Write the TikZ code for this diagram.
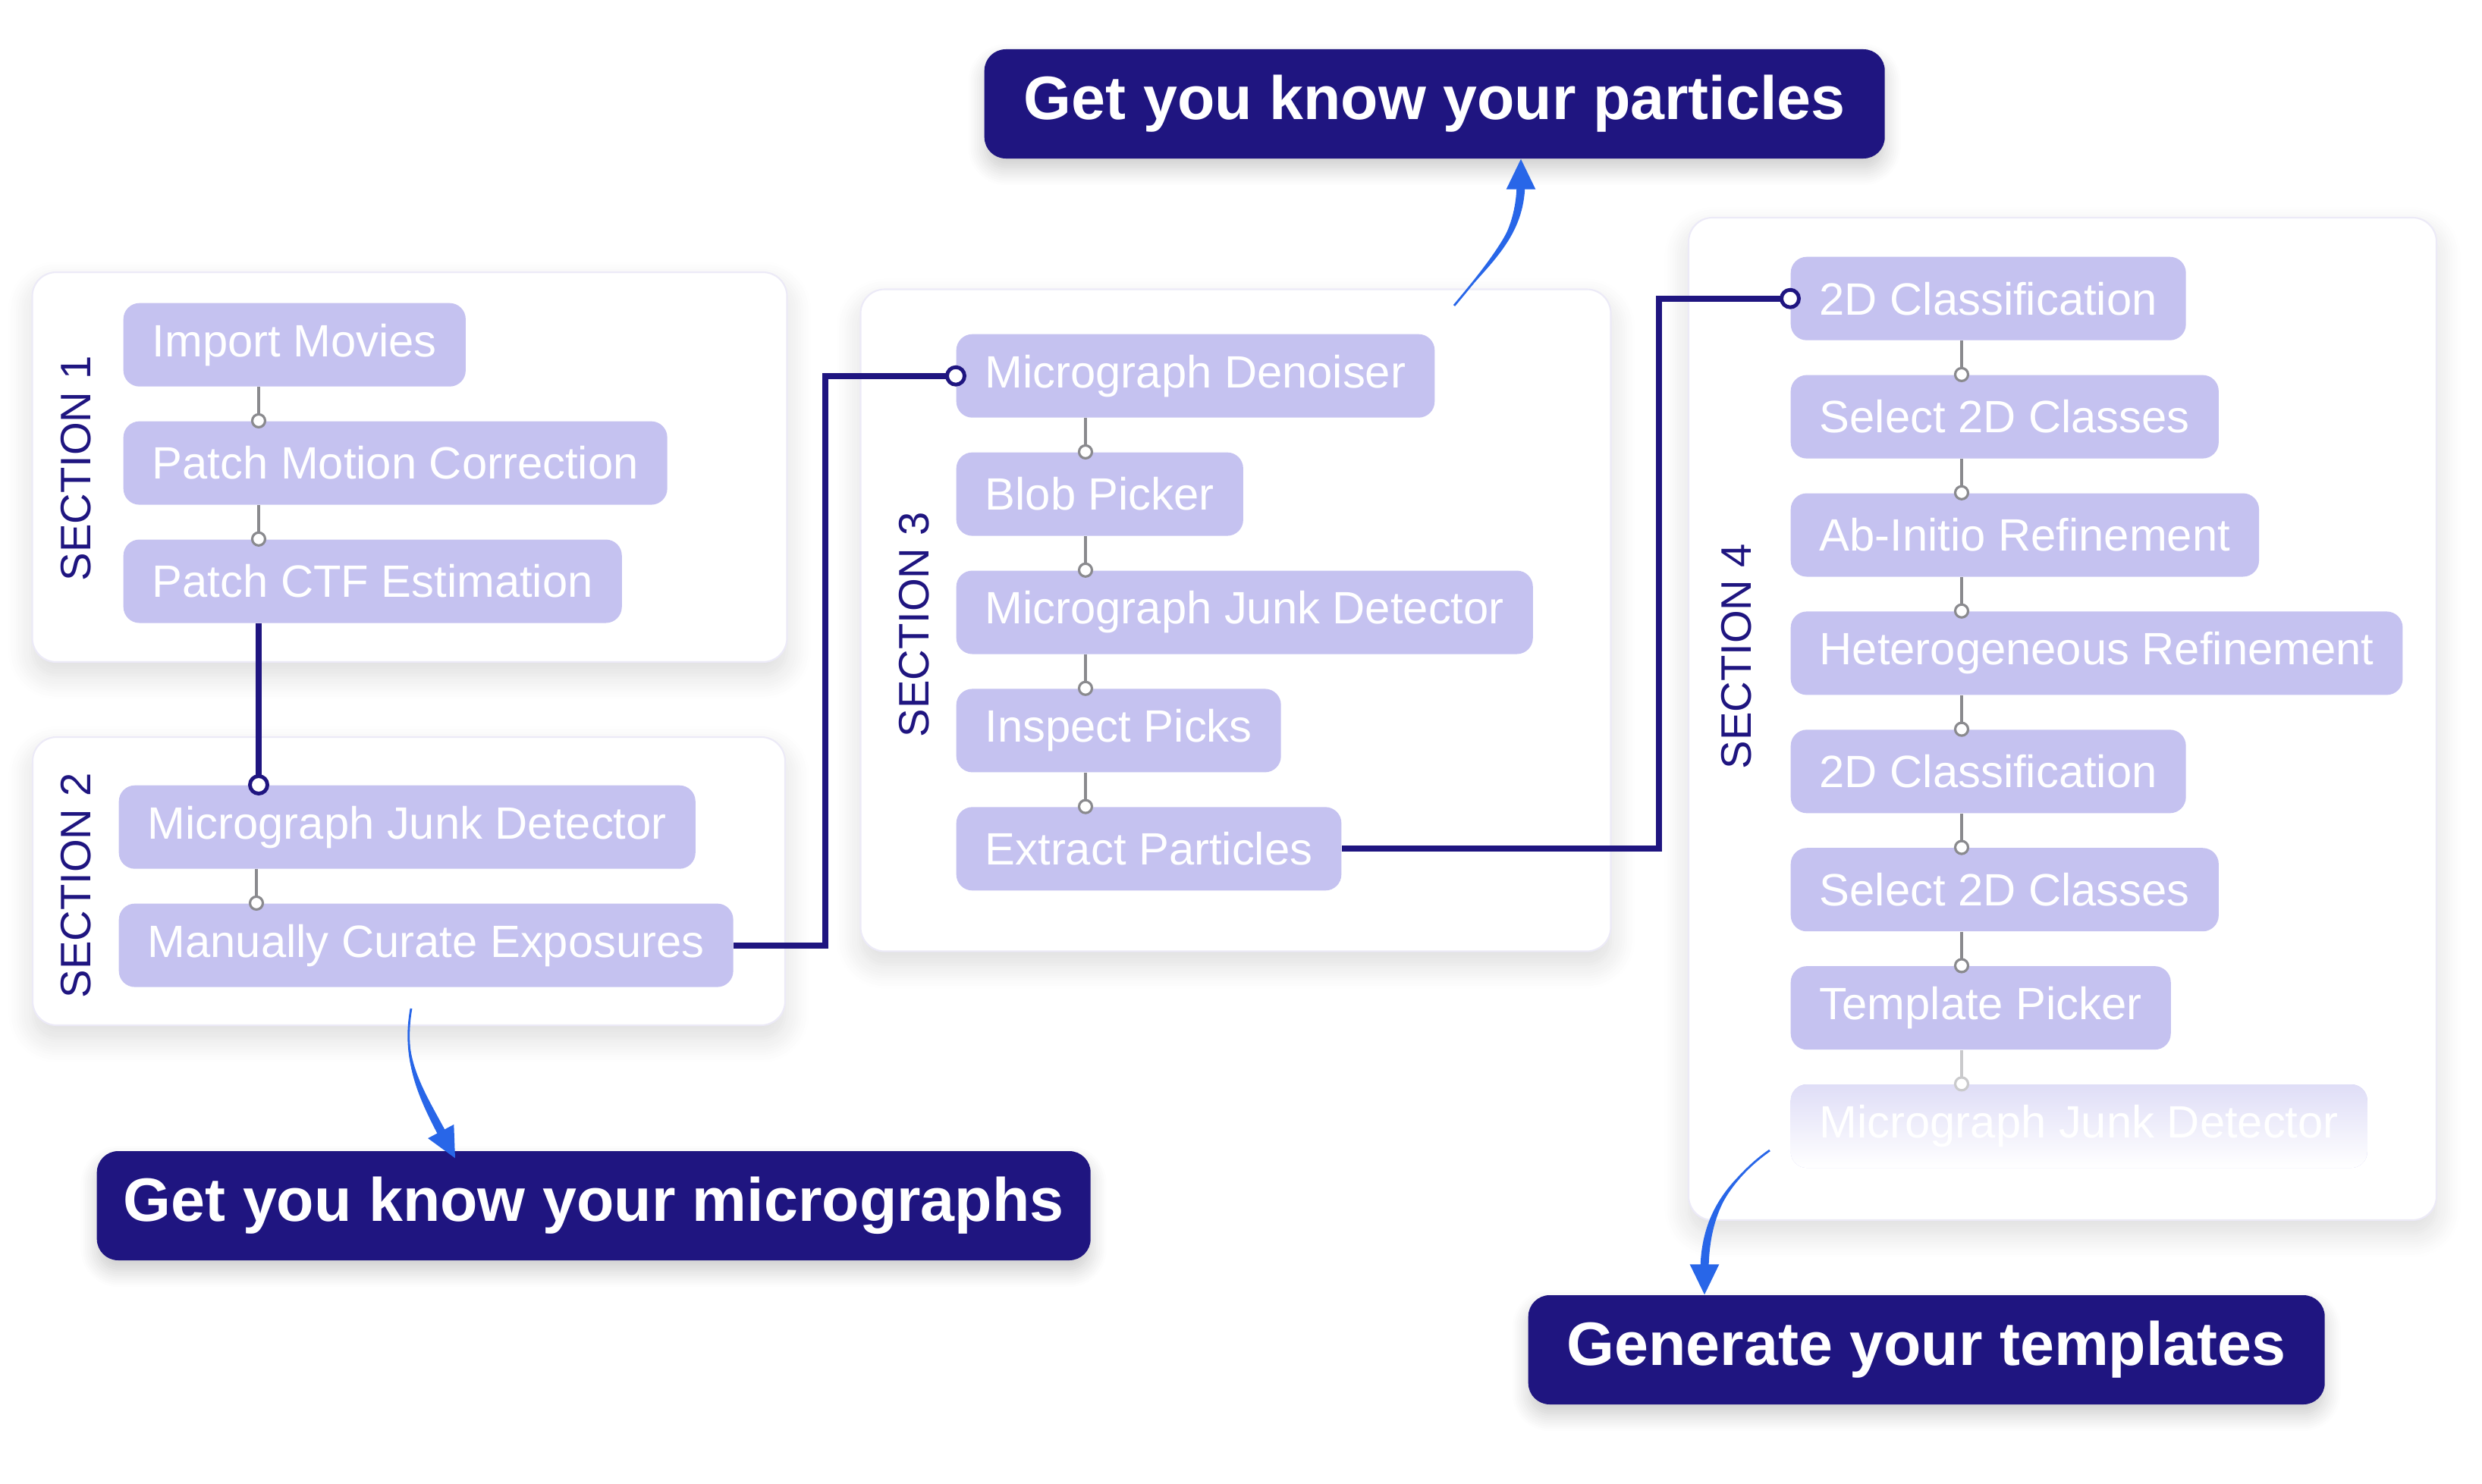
\documentclass[tikz,border=0pt]{standalone}
\usepackage{fontspec}
\setmainfont{Liberation Sans}
\usepackage{tikz}
\usetikzlibrary{arrows.meta,positioning,calc,shadows.blur}
\definecolor{Navy}{HTML}{1F1580}
\definecolor{Lilac}{HTML}{C5C2F0}
\definecolor{Wire}{HTML}{8A8A8E}
\definecolor{Edge}{HTML}{ECEAF7}
\definecolor{Blue}{HTML}{2866E8}

\begin{document}
\begin{tikzpicture}[
    panel/.style={rounded corners=9pt,fill=white,draw=Edge,line width=0.6pt,
      blur shadow={shadow xshift=0pt,shadow yshift=-5pt,shadow blur steps=10,
        shadow blur radius=9pt,shadow opacity=14}},
    job/.style={rounded corners=6pt,fill=Lilac,text=white,minimum height=1.1cm,
      inner xsep=0.38cm,anchor=north west,font=\fontsize{17pt}{20pt}\selectfont},
    under/.style={below=0.445cm of #1.south west,anchor=north west},
    sec/.style={rotate=90,text=Navy,font=\fontsize{16pt}{19pt}\selectfont},
    goal/.style={rounded corners=8pt,fill=Navy,text=white,minimum height=1.44cm,
      inner xsep=0.3cm,anchor=west,font=\fontsize{23pt}{27pt}\selectfont\bfseries,
      blur shadow={shadow xshift=0pt,shadow yshift=-4pt,shadow blur steps=8,
        shadow blur radius=6pt,shadow opacity=20}},
    wire/.style={draw=Wire,line width=0.9pt},
    flow/.style={draw=Navy,line width=2.3pt},
    knob/.style={circle,draw=Wire,fill=white,line width=0.9pt,inner sep=0pt,minimum size=0.17cm},
    bigknob/.style={circle,draw=Navy,fill=white,line width=1.4pt,inner sep=0pt,minimum size=0.23cm},
    hint/.style={draw=Blue,line width=0.8pt,-{Triangle[length=0.4cm,width=0.38cm]}}
  ]
    \useasboundingbox (0,0) rectangle (32.72,-19.57);

    % section panels
    \node[panel,minimum width=9.95cm,minimum height=5.14cm] (box1) at (5.40,-6.16) {};
    \node[panel,minimum width=9.92cm,minimum height=3.80cm] (box2) at (5.39,-11.62) {};
    \node[panel,minimum width=9.89cm,minimum height=8.73cm] (box3) at (16.29,-8.18) {};
    \node[panel,minimum width=9.86cm,minimum height=13.22cm] (box4) at (27.19,-9.48) {};

    \node[sec] (sec1) at (1.00,-6.18) {SECTION 1};
    \node[sec] (sec2) at (1.00,-11.68) {SECTION 2};
    \node[sec] (sec3) at (12.05,-8.24) {SECTION 3};
    \node[sec] (sec4) at (22.89,-8.66) {SECTION 4};

    % section 1
    \node[job] (imp) at (1.62,-3.99) {Import Movies};
    \node[job,under=imp] (pmc) {Patch Motion Correction};
    \node[job,under=pmc] (ctf) {Patch CTF Estimation};

    % section 2
    \node[job] (mjd2) at (1.56,-10.35) {Micrograph Junk Detector};
    \node[job,under=mjd2] (mce) {Manually Curate Exposures};

    % section 3
    \node[job] (den) at (12.60,-4.40) {Micrograph Denoiser};
    \node[job,under=den] (blob) {Blob Picker};
    \node[job,under=blob] (mjd3) {Micrograph Junk Detector};
    \node[job,under=mjd3] (insp) {Inspect Picks};
    \node[job,under=insp] (ext) {Extract Particles};

    % section 4
    \node[job] (cls1) at (23.60,-3.38) {2D Classification};
    \node[job,under=cls1] (sel1) {Select 2D Classes};
    \node[job,under=sel1] (abi) {Ab-Initio Refinement};
    \node[job,under=abi] (het) {Heterogeneous Refinement};
    \node[job,under=het] (cls2) {2D Classification};
    \node[job,under=cls2] (sel2) {Select 2D Classes};
    \node[job,under=sel2] (tpl) {Template Picker};
    \node[job,under=tpl,top color=Lilac!55,bottom color=white] (mjd4) {Micrograph Junk Detector};

    % steps inside the sections
    \coordinate (c1) at (3.41,0);
    \coordinate (c2) at (3.38,0);
    \coordinate (c3) at (14.31,0);
    \coordinate (c4) at (25.86,0);
    \draw[wire] (imp.south -| c1) -- (pmc.north -| c1) node[knob]{};
    \draw[wire] (pmc.south -| c1) -- (ctf.north -| c1) node[knob]{};
    \draw[wire] (mjd2.south -| c2) -- (mce.north -| c2) node[knob]{};
    \draw[wire] (den.south -| c3) -- (blob.north -| c3) node[knob]{};
    \draw[wire] (blob.south -| c3) -- (mjd3.north -| c3) node[knob]{};
    \draw[wire] (mjd3.south -| c3) -- (insp.north -| c3) node[knob]{};
    \draw[wire] (insp.south -| c3) -- (ext.north -| c3) node[knob]{};
    \draw[wire] (cls1.south -| c4) -- (sel1.north -| c4) node[knob]{};
    \draw[wire] (sel1.south -| c4) -- (abi.north -| c4) node[knob]{};
    \draw[wire] (abi.south -| c4) -- (het.north -| c4) node[knob]{};
    \draw[wire] (het.south -| c4) -- (cls2.north -| c4) node[knob]{};
    \draw[wire] (cls2.south -| c4) -- (sel2.north -| c4) node[knob]{};
    \draw[wire] (sel2.south -| c4) -- (tpl.north -| c4) node[knob]{};
    \draw[wire,draw=Wire!45] (tpl.south -| c4) -- (mjd4.north -| c4) node[knob,draw=Wire!45]{};

    % links between the sections
    \draw[flow] (ctf.south -| c1) -- (mjd2.north -| c1) node[bigknob]{};
    \draw[flow] (mce.east) -| ($(den.west)+(-1.72,0)$) -- (den.west) node[bigknob]{};
    \draw[flow] (ext.east) -| ($(cls1.west)+(-1.73,0)$) -- (cls1.west) node[bigknob]{};

    % goals
    \node[goal,minimum width=11.87cm] (t1) at (12.97,-1.37) {Get you know your particles};
    \node[goal,minimum width=13.10cm] (t2) at (1.27,-15.90) {Get you know your micrographs};
    \node[goal,minimum width=10.50cm] (t3) at (20.14,-17.80) {Generate your templates};

    % curved hints, thin at the start and thicker near the tip
    \coordinate (a1) at (19.17,-4.03);
    \coordinate (a2) at (5.42,-13.30);
    \coordinate (a3) at (23.33,-15.17);
    \coordinate (e1) at ($(t1.south west)+(7.08,0)$);
    \coordinate (e2) at ($(t2.north west)+(4.73,-0.1)$);
    \coordinate (e3) at ($(t3.north west)+(2.33,0)$);
    \fill[Blue] (a1) to[out=50,in=-90] ($(e1)+(-0.055,-0.3)$) -- ($(e1)+(0.055,-0.3)$)
      to[out=-90,in=50] (a1) -- cycle;
    \fill[Blue] (a2) to[out=-100,in=118] ($(e2)+(-0.19,0.24)$) -- ($(e2)+(-0.09,0.29)$)
      to[out=118,in=-100] (a2) -- cycle;
    \fill[Blue] (a3) to[out=-145,in=90] ($(e3)+(-0.055,0.3)$) -- ($(e3)+(0.055,0.3)$)
      to[out=90,in=-145] (a3) -- cycle;
    \draw[hint] (a1) to[out=50,in=-90] (e1);
    \draw[hint] (a2) to[out=-100,in=118] (e2);
    \draw[hint] (a3) to[out=-145,in=90] (e3);
  \end{tikzpicture}
\end{document}
